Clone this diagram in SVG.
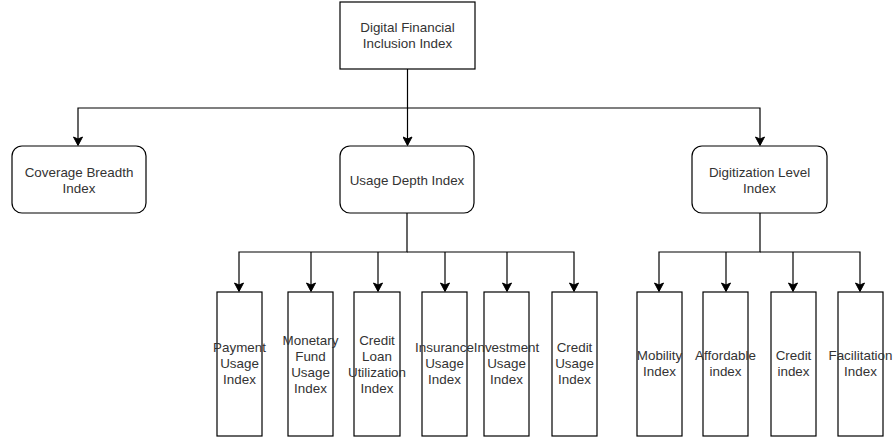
<svg xmlns="http://www.w3.org/2000/svg" width="893" height="442" viewBox="0 0 893 442">
<defs>
<marker id="arr" markerWidth="10" markerHeight="10" refX="9" refY="5" orient="auto" markerUnits="userSpaceOnUse">
<path d="M1,0.5 L9.5,5 L1,9.5 L3,5 Z" fill="#000" stroke="#000" stroke-width="1"/>
</marker>
</defs>
<style>
.box{fill:#fff;stroke:#000;stroke-width:1.2}
.t{font-family:"Liberation Sans",Arial,sans-serif;font-size:13.4px;fill:#333;text-anchor:middle}
.c{fill:none;stroke:#000;stroke-width:1.2}
</style>
<rect width="893" height="442" fill="#fff"/>
<g id="connectors">
<path class="c" d="M407.5,69 V108 H78 V145" marker-end="url(#arr)"/>
<path class="c" d="M407.5,108 V145" marker-end="url(#arr)"/>
<path class="c" d="M407.5,108 H760 V145" marker-end="url(#arr)"/>
<path class="c" d="M407,213 V252 H239 V291" marker-end="url(#arr)"/>
<path class="c" d="M311,252 V291" marker-end="url(#arr)"/>
<path class="c" d="M378,252 V291" marker-end="url(#arr)"/>
<path class="c" d="M407,252 H574 V291" marker-end="url(#arr)"/>
<path class="c" d="M445,252 V291" marker-end="url(#arr)"/>
<path class="c" d="M507,252 V291" marker-end="url(#arr)"/>
<path class="c" d="M760,213 V252 H659 V291" marker-end="url(#arr)"/>
<path class="c" d="M726,252 V291" marker-end="url(#arr)"/>
<path class="c" d="M760,252 H860 V291" marker-end="url(#arr)"/>
<path class="c" d="M793,252 V291" marker-end="url(#arr)"/>
</g>
<g id="root">
<rect class="box" x="340" y="2" width="135" height="67"/>
<text class="t" x="407.5" y="32">Digital Financial</text>
<text class="t" x="407.5" y="48">Inclusion Index</text>
</g>
<g id="coverage">
<rect class="box" x="12" y="146" width="134" height="67" rx="10"/>
<text class="t" x="79" y="176.5">Coverage Breadth</text>
<text class="t" x="79" y="192.5">Index</text>
</g>
<g id="usage">
<rect class="box" x="340" y="146" width="134" height="67" rx="10"/>
<text class="t" x="407" y="184.5">Usage Depth Index</text>
</g>
<g id="digitization">
<rect class="box" x="692" y="146" width="135" height="67" rx="10"/>
<text class="t" x="759.5" y="176.5">Digitization Level</text>
<text class="t" x="759.5" y="192.5">Index</text>
</g>
<g id="payment">
<rect class="box" x="217" y="292" width="45" height="144"/>
<text class="t" x="239.5" y="352">Payment</text>
<text class="t" x="239.5" y="368">Usage</text>
<text class="t" x="239.5" y="384">Index</text>
</g>
<g id="monetary">
<rect class="box" x="288" y="292" width="45" height="144"/>
<text class="t" x="310.5" y="345">Monetary</text>
<text class="t" x="310.5" y="361">Fund</text>
<text class="t" x="310.5" y="377">Usage</text>
<text class="t" x="310.5" y="393">Index</text>
</g>
<g id="creditloan">
<rect class="box" x="354" y="292" width="46" height="144"/>
<text class="t" x="377" y="345">Credit</text>
<text class="t" x="377" y="361">Loan</text>
<text class="t" x="377" y="377">Utilization</text>
<text class="t" x="377" y="393">Index</text>
</g>
<g id="insurance">
<rect class="box" x="422" y="292" width="45" height="144"/>
<text class="t" x="444.5" y="352">Insurance</text>
<text class="t" x="444.5" y="368">Usage</text>
<text class="t" x="444.5" y="384">Index</text>
</g>
<g id="investment">
<rect class="box" x="484" y="292" width="45" height="144"/>
<text class="t" x="506.5" y="352">Investment</text>
<text class="t" x="506.5" y="368">Usage</text>
<text class="t" x="506.5" y="384">Index</text>
</g>
<g id="creditusage">
<rect class="box" x="552" y="292" width="45" height="144"/>
<text class="t" x="574.5" y="352">Credit</text>
<text class="t" x="574.5" y="368">Usage</text>
<text class="t" x="574.5" y="384">Index</text>
</g>
<g id="mobility">
<rect class="box" x="637" y="292" width="45" height="144"/>
<text class="t" x="659.5" y="360">Mobility</text>
<text class="t" x="659.5" y="376">Index</text>
</g>
<g id="affordable">
<rect class="box" x="703" y="292" width="45" height="144"/>
<text class="t" x="725.5" y="360">Affordable</text>
<text class="t" x="725.5" y="376">index</text>
</g>
<g id="credit">
<rect class="box" x="771" y="292" width="45" height="144"/>
<text class="t" x="793.5" y="360">Credit</text>
<text class="t" x="793.5" y="376">index</text>
</g>
<g id="facilitation">
<rect class="box" x="838" y="292" width="45" height="144"/>
<text class="t" x="860.5" y="360">Facilitation</text>
<text class="t" x="860.5" y="376">Index</text>
</g>
</svg>
